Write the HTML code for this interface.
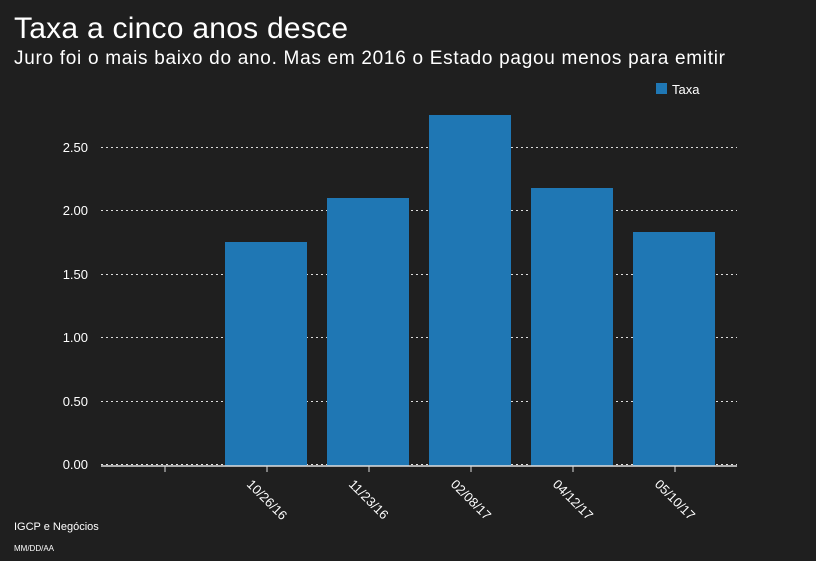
<!DOCTYPE html>
<html><head><meta charset="utf-8"><style>
body{margin:0;background:#1f1f1f;}
svg{display:block;font-family:"Liberation Sans",sans-serif;}
</style></head><body>
<svg width="816" height="561" viewBox="0 0 816 561">
<rect width="816" height="561" fill="#1f1f1f"/>
<text x="14" y="38" fill="#fff" font-size="30" textLength="334">Taxa a cinco anos desce</text>
<text x="14" y="64" fill="#fff" font-size="19" textLength="711">Juro foi o mais baixo do ano. Mas em 2016 o Estado pagou menos para emitir</text>
<rect x="656" y="83" width="11" height="11" fill="#1f77b4"/>
<text x="672" y="94" fill="#fff" font-size="13">Taxa</text>
<g stroke="#ddd" stroke-width="1" stroke-dasharray="2,3">
<line x1="101" x2="737" y1="147.5" y2="147.5"/>
<line x1="101" x2="737" y1="210.5" y2="210.5"/>
<line x1="101" x2="737" y1="274.5" y2="274.5"/>
<line x1="101" x2="737" y1="337.5" y2="337.5"/>
<line x1="101" x2="737" y1="401.5" y2="401.5"/>
<line x1="101" x2="737" y1="464.5" y2="464.5"/>
</g>
<g fill="#fff" font-size="13" text-anchor="end">
<text x="88" y="152">2.50</text>
<text x="88" y="215">2.00</text>
<text x="88" y="279">1.50</text>
<text x="88" y="342">1.00</text>
<text x="88" y="406">0.50</text>
<text x="88" y="469">0.00</text>
</g>
<g fill="#1f77b4">
<rect x="225" y="242" width="82" height="224"/>
<rect x="327" y="198" width="82" height="268"/>
<rect x="429" y="115" width="82" height="351"/>
<rect x="531" y="188" width="82" height="278"/>
<rect x="633" y="232" width="82" height="234"/>
</g>
<line x1="101" x2="737" y1="466" y2="466" stroke="#ddd" stroke-width="1.5"/>
<g stroke="#ddd" stroke-width="1">
<line x1="165" x2="165" y1="466" y2="472"/>
<line x1="267" x2="267" y1="466" y2="472"/>
<line x1="369" x2="369" y1="466" y2="472"/>
<line x1="471" x2="471" y1="466" y2="472"/>
<line x1="573" x2="573" y1="466" y2="472"/>
<line x1="675" x2="675" y1="466" y2="472"/>
</g>
<g fill="#fff" font-size="13">
<text transform="translate(246,485) rotate(45)">10/26/16</text>
<text transform="translate(348,485) rotate(45)">11/23/16</text>
<text transform="translate(450,485) rotate(45)">02/08/17</text>
<text transform="translate(552,485) rotate(45)">04/12/17</text>
<text transform="translate(654,485) rotate(45)">05/10/17</text>
</g>
<text x="14" y="530" fill="#fff" font-size="11">IGCP e Negócios</text>
<text x="14" y="551" fill="#fff" font-size="8">MM/DD/AA</text>
</svg>
</body></html>
